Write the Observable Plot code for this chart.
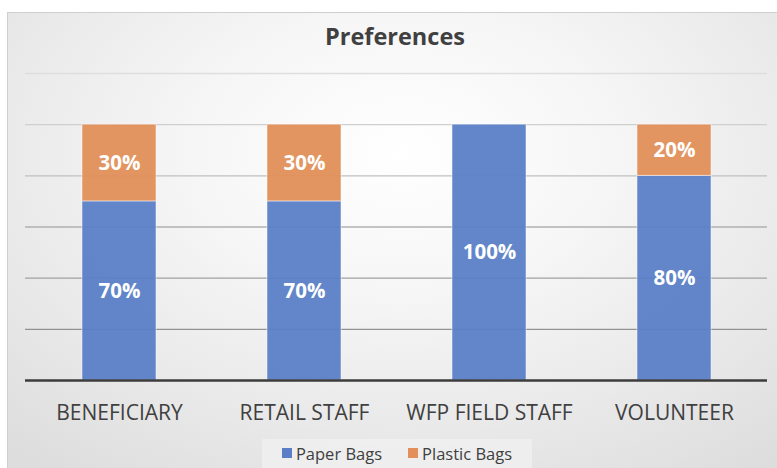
<!DOCTYPE html>
<html>
<head>
<meta charset="utf-8">
<script src="https://cdn.jsdelivr.net/npm/d3@7"></script>
<script src="https://cdn.jsdelivr.net/npm/@observablehq/plot@0.6"></script>
<style>
  html, body { margin: 0; padding: 0; background: #ffffff; }
  #wrap { position: relative; width: 777px; height: 468px; overflow: hidden; background: #ffffff; }
  #frame { position: absolute; left: 7px; top: 12px; width: 790px; height: 470px;
    border: 1px solid #cfcfcf; box-sizing: border-box;
    background: radial-gradient(ellipse 75% 85% at 50% 30%, #ffffff 0%, #f6f6f6 35%, #e9e9e9 70%, #dddddd 100%); }
  #title { position: absolute; left: 0; width: 790px; top: 20px; text-align: center;
    font-family: "Open Sans", sans-serif; font-weight: 700; font-size: 23.5px; color: #404040; }
  #chart { position: absolute; left: 0; top: 0; }
  #legend { position: absolute; left: 262px; top: 439px; width: 270px; height: 32px;
    background: rgba(240,240,240,0.8); display: flex; justify-content: center; gap: 26px;
    font-family: "Open Sans", sans-serif; font-size: 16.5px; color: #404040; padding-top: 3px; box-sizing: border-box; }
  #legend .item { display: flex; align-items: center; gap: 4px; height: 22px; }
  #legend .sw { width: 10px; height: 10px; display: inline-block; }
</style>
</head>
<body>
<div id="wrap">
  <div id="frame"></div>
  <div id="title">Preferences</div>
  <div id="chart"></div>
  <div id="legend"></div>
</div>
<script>
const categories = ["BENEFICIARY", "RETAIL STAFF", "WFP FIELD STAFF", "VOLUNTEER"];
const series = ["Paper Bags", "Plastic Bags"];
const paperBags = [0.70, 0.70, 1.00, 0.80];
const plasticBags = [0.30, 0.30, 0.00, 0.20];
const seriesColors = ["#5a7fc6", "#e28f59"];
const yTicks = [0.2, 0.4, 0.6, 0.8, 1.0, 1.2];

const rows = [];
categories.forEach((c, i) => {
  rows.push({category: c, series: series[0], value: paperBags[i]});
  rows.push({category: c, series: series[1], value: plasticBags[i]});
});

const gridColor = d3.scaleLinear().domain([0.2, 1.2]).range(["#929292", "#dedede"]);

const chart = Plot.plot({
  width: 777,
  height: 468,
  marginTop: 73,
  marginBottom: 88,
  marginLeft: 25,
  marginRight: 10,
  style: {background: "transparent", fontFamily: "Open Sans, sans-serif", fontSize: "21px", color: "#404040", overflow: "visible"},
  x: {domain: categories, paddingInner: 0.6, paddingOuter: 0.3, label: null},
  y: {domain: [0, 1.2], axis: null},
  color: {domain: series, range: seriesColors},
  marks: [
    Plot.ruleY(yTicks, {stroke: d => gridColor(d), strokeWidth: 1.3}),
    Plot.barY(rows, Plot.stackY({x: "category", y: "value", fill: "series", fillOpacity: 0.95, stroke: "#ffffff", strokeOpacity: 0.6, strokeWidth: 0.8})),
    Plot.text(rows, Plot.stackY({filter: d => d.value > 0, x: "category", y: "value", z: "series",
      text: d => Math.round(d.value * 100) + "%", fill: "white", fontWeight: "bold", fontSize: 20.5})),
    Plot.ruleY([0], {stroke: "#3c3c3c", strokeWidth: 2.6}),
    Plot.axisX({tickSize: 0, tickPadding: 25, fontSize: 21, label: null})
  ]
});
document.getElementById("chart").appendChild(chart);

const legend = document.getElementById("legend");
series.forEach((s, i) => {
  const item = document.createElement("div");
  item.className = "item";
  const sw = document.createElement("span");
  sw.className = "sw";
  sw.style.background = seriesColors[i];
  const t = document.createElement("span");
  t.textContent = s;
  item.appendChild(sw);
  item.appendChild(t);
  legend.appendChild(item);
});
</script>
</body>
</html>
